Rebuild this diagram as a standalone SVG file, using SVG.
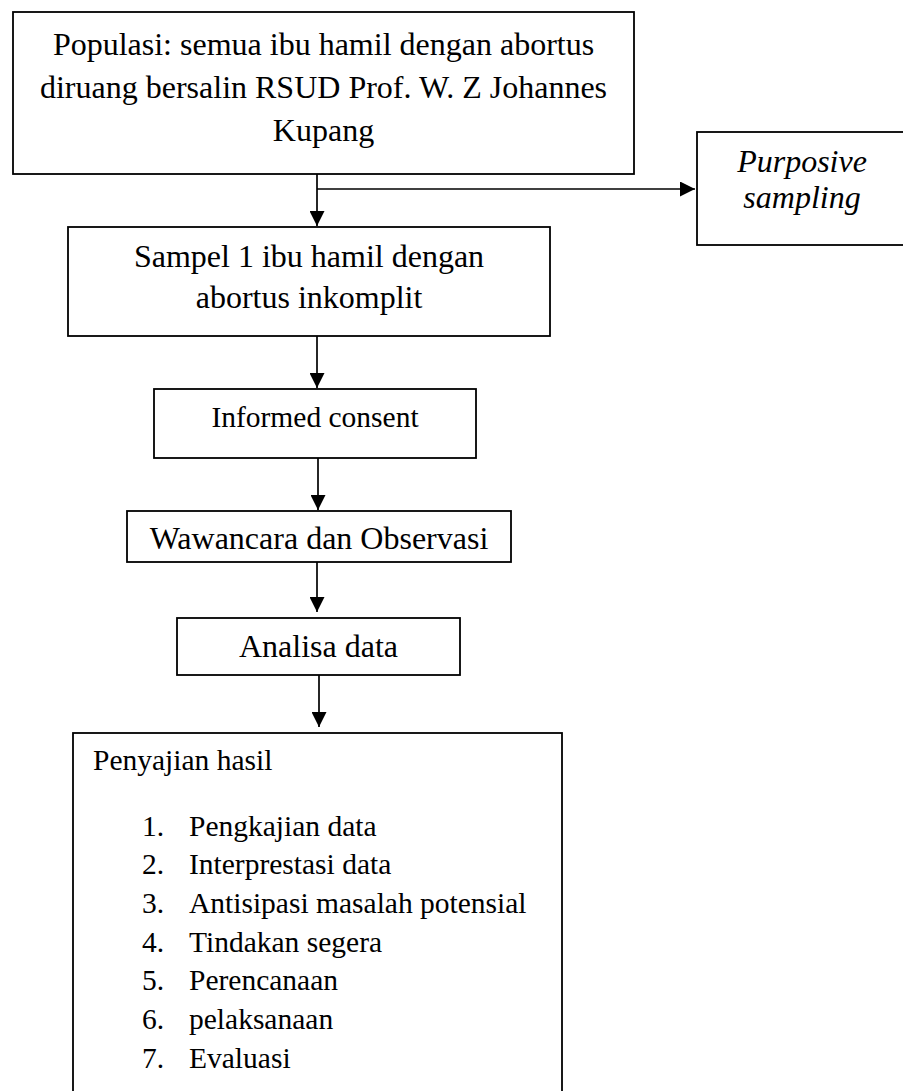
<svg xmlns="http://www.w3.org/2000/svg" width="903" height="1091" viewBox="0 0 903 1091">
<style>
.box{fill:#fff;stroke:#000;stroke-width:1.8}
.t{font-family:"Liberation Serif","Times New Roman",serif;font-size:32px;fill:#000}
.c{text-anchor:middle}
.s{font-size:29.5px}
.i{font-style:italic}
.ln{fill:none;stroke:#000;stroke-width:1.7}
</style>
<defs>
<marker id="ah" markerUnits="userSpaceOnUse" markerWidth="16" markerHeight="15" refX="15" refY="7.5" orient="auto">
<path d="M0,0 L15,7.5 L0,15 Z" fill="#000"/>
</marker>
</defs>
<rect width="903" height="1091" fill="#fff"/>
<g id="connectors">
<path class="ln" d="M317,174 V226" marker-end="url(#ah)"/>
<path class="ln" d="M317,189 H695" marker-end="url(#ah)"/>
<path class="ln" d="M317,336 V388" marker-end="url(#ah)"/>
<path class="ln" d="M318,458 V510" marker-end="url(#ah)"/>
<path class="ln" d="M317,562 V612" marker-end="url(#ah)"/>
<path class="ln" d="M319,675 V727" marker-end="url(#ah)"/>
</g>
<g id="populasi">
<rect class="box" x="13" y="12" width="621" height="162"/>
<text class="t c" x="323.5" y="55">Populasi: semua ibu hamil dengan abortus</text>
<text class="t c" x="323.5" y="98">diruang bersalin RSUD Prof. W. Z Johannes</text>
<text class="t c" x="323.5" y="141">Kupang</text>
</g>
<g id="purposive">
<rect class="box" x="697" y="132" width="212" height="113"/>
<text class="t c i" x="802" y="172">Purposive</text>
<text class="t c i" x="802" y="208">sampling</text>
</g>
<g id="sampel">
<rect class="box" x="68" y="227" width="482" height="109"/>
<text class="t c" x="309" y="267">Sampel 1 ibu hamil dengan</text>
<text class="t c" x="309" y="308">abortus inkomplit</text>
</g>
<g id="informed">
<rect class="box" x="154" y="389" width="322" height="69"/>
<text class="t c s" x="315" y="427">Informed consent</text>
</g>
<g id="wawancara">
<rect class="box" x="127" y="511" width="384" height="51"/>
<text class="t c" x="319" y="549">Wawancara dan Observasi</text>
</g>
<g id="analisa">
<rect class="box" x="177" y="618" width="283" height="57"/>
<text class="t c" x="318.5" y="657">Analisa data</text>
</g>
<g id="penyajian">
<rect class="box" x="73" y="733" width="489" height="380"/>
<text class="t s" x="93" y="770">Penyajian hasil</text>
<text class="t s" x="142" y="836">1.</text><text class="t s" x="189" y="836">Pengkajian data</text>
<text class="t s" x="142" y="874">2.</text><text class="t s" x="189" y="874">Interprestasi data</text>
<text class="t s" x="142" y="913">3.</text><text class="t s" x="189" y="913">Antisipasi masalah potensial</text>
<text class="t s" x="142" y="952">4.</text><text class="t s" x="189" y="952">Tindakan segera</text>
<text class="t s" x="142" y="990">5.</text><text class="t s" x="189" y="990">Perencanaan</text>
<text class="t s" x="142" y="1029">6.</text><text class="t s" x="189" y="1029">pelaksanaan</text>
<text class="t s" x="142" y="1068">7.</text><text class="t s" x="189" y="1068">Evaluasi</text>
</g>
</svg>
